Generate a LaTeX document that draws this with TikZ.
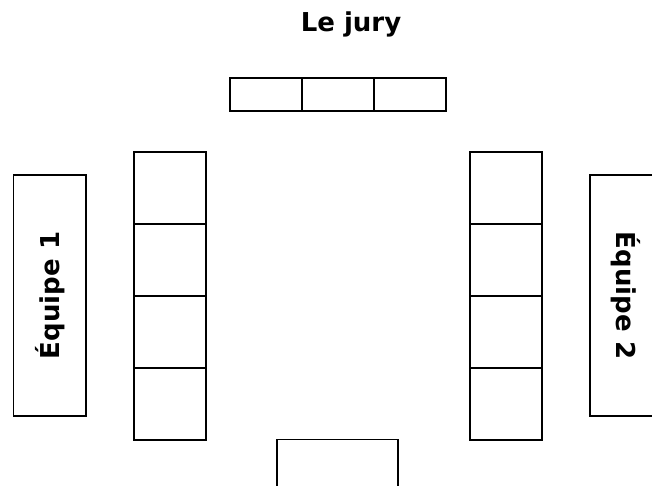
\documentclass[tikz,border=0pt]{standalone}
\usepackage{fontspec}
\setmainfont{DejaVu Sans}
\begin{document}
\begin{tikzpicture}[x=1pt,y=-1pt,
  seat/.style={draw, line width=1.7pt, inner sep=0pt, minimum width=72pt, minimum height=72pt},
  jseat/.style={draw, line width=1.7pt, inner sep=0pt, minimum width=72pt, minimum height=33pt},
  team/.style={draw, line width=1.7pt, inner sep=0pt, minimum width=72.5pt, minimum height=241pt},
  lbl/.style={font=\bfseries\fontsize{26}{30}\selectfont, inner sep=0pt}]
\useasboundingbox (0,0) rectangle (652,486);
\begin{scope}
\clip (0,0) rectangle (652,486);
\node[lbl] (title) at (351,24) {Le jury};
% jury seats
\node[jseat] (j1) at (266,94.2) {};
\node[jseat] (j2) at (338,94.2) {};
\node[jseat] (j3) at (410,94.2) {};
% left column
\node[seat] (l1) at (170,188) {};
\node[seat] (l2) at (170,260) {};
\node[seat] (l3) at (170,332) {};
\node[seat] (l4) at (170,404) {};
% right column
\node[seat] (r1) at (506,188) {};
\node[seat] (r2) at (506,260) {};
\node[seat] (r3) at (506,332) {};
\node[seat] (r4) at (506,404) {};
% teams
\node[team] (t1) at (49.8,295.5) {};
\node[team] (t2) at (626.2,295.5) {};
\node[lbl, rotate=90] (e1) at (t1.center) {Équipe 1};
\node[lbl, rotate=-90] (e2) at (t2.center) {Équipe 2};
% bottom box
\node[draw, line width=1.7pt, inner sep=0pt, minimum width=121pt, minimum height=80pt] (b) at (337.8,479.5) {};
\end{scope}
\end{tikzpicture}
\end{document}
